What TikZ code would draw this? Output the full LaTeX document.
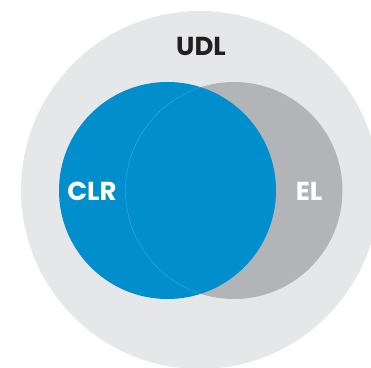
\documentclass[tikz,border=0pt]{standalone}
\usepackage{fontspec}
\newfontfamily\vennfont{Poppins}
\definecolor{udlgray}{HTML}{E6E7E8}
\definecolor{elgray}{HTML}{B3B4B7}
\definecolor{clrblue}{HTML}{008FCC}
\definecolor{textdark}{HTML}{231F20}
\tikzset{
  setlabel/.style = {font=\vennfont\bfseries\fontsize{26}{26}\selectfont, inner sep=0pt}
}
\begin{document}
\begin{tikzpicture}[x=1pt, y=1pt]
    \useasboundingbox (0, 0) rectangle (371, 367);
    \begin{scope}
      \clip (0, 0) rectangle (371, 367);
      \fill [udlgray] (200, 177) circle [radius=179];
    \end{scope}
    \fill [elgray] (234, 176.5) circle [radius=108.5];
    \fill [clrblue] (167.5, 176.5) circle [radius=108.5];
    % faint edge of EL inside CLR
    \begin{scope}
      \clip (167.5, 176.5) circle [radius=108.5];
      \draw [line width=0.3pt, clrblue!70!white] (234, 176.5) circle [radius=108.5];
    \end{scope}
    \node [setlabel, text=textdark] (udl) at (201, 321) {UDL};
    \node [setlabel, text=white] (clr) at (92, 176) {CLR};
    \node [setlabel, text=white] (el) at (309, 176) {EL};
  \end{tikzpicture}
\end{document}
